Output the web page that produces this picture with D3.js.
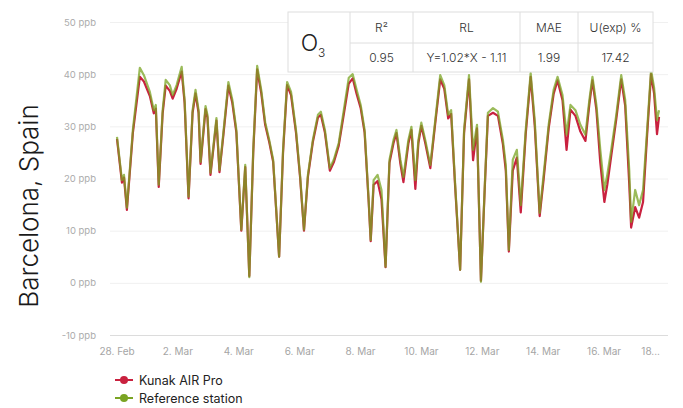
<!DOCTYPE html>
<html>
<head>
<meta charset="utf-8">
<script src="https://cdn.jsdelivr.net/npm/d3@7"></script>
<style>
  body { margin: 0; background: #fff; }
  svg { display: block; font-family: Inter, "Open Sans", sans-serif; }
</style>
</head>
<body>
<div id="chart"></div>
<script>
// hours since 28 Feb 00:00 at the turning points
var hours = [0, 3.9, 5.5, 7.8, 12.5, 18, 21.2, 25.9, 29, 30.6, 32.9, 36, 38.4, 41.6, 43.9, 47, 51, 53.3, 56.4, 59.6,
  61.9, 64.3, 65.9, 69.8, 71.3, 73.7, 78.4, 80.8, 83.9, 87.8, 90.9, 94.1, 98, 101.1, 104.3, 107.4, 110.5, 113.7, 116.8, 120,
  123.1, 127.8, 130.9, 134.1, 137.2, 141.1, 144.3, 147.4, 150.5, 154.4, 158.4, 160.7, 163.9, 167.8, 170.9, 174.8, 178.8, 182.7, 185.8, 188.9,
  192.1, 195.2, 198.4, 200, 202.3, 205.4, 208.5, 211.7, 214.8, 218, 220.3, 223.4, 225.8, 229.7, 232.1, 235.2, 237.6, 239.9, 243, 247,
  250.9, 254.8, 258, 261.1, 263.4, 266.6, 270.5, 273.6, 277.5, 280.7, 283.8, 286.9, 290.1, 292.4, 296.4, 300.3, 304.2, 306.5, 308.9, 312,
  315.2, 318.3, 322.2, 326.1, 329.3, 333.2, 336.3, 340.3, 344.2, 347.3, 351.2, 354.4, 357.5, 361.4, 365.3, 369.3, 372.4, 374.8, 377.9, 381,
  384.2, 386.5, 389.6, 393.6, 397.5, 400.6, 403.8, 405.3, 408.5, 411.6, 414.7, 417.9, 421, 423.4, 425.7, 427.3];

var reference = [28, 19.7, 20.7, 14.4, 29.3, 41.2, 39.8, 36.6, 33.1, 34.1, 18.8, 33.1, 38.9, 37.9, 36, 37.9, 41.4, 35.1, 16.5, 33.1,
  37, 33.1, 23.2, 33.9, 32.2, 21.1, 31.6, 21.6, 28.9, 38.5, 35.1, 29.3, 10.2, 22.6, 1.1, 25.5, 41.6, 37, 30.8, 27.4,
  23.6, 5, 25.5, 38.5, 36.6, 29.3, 20.7, 10.2, 20.7, 27.4, 32.2, 32.8, 29.3, 22, 23.6, 26.8, 33.1, 39.3, 40, 37,
  34.1, 29.3, 15.9, 8.2, 19.7, 20.7, 17.8, 3.1, 23.6, 27.4, 29.3, 23.6, 20.3, 27.4, 29.9, 19.7, 27.4, 30.7, 27.4, 22.6,
  31.2, 39.8, 37.9, 32.2, 33.1, 18.8, 2.5, 29.3, 39.8, 25.5, 30.3, 0.2, 19.7, 32.6, 33.5, 32.8, 27.4, 22.6, 6.3, 23.6,
  25.5, 14.9, 29.3, 40.2, 31.2, 13.4, 20.7, 30.3, 37, 39.5, 36, 28.4, 34.1, 33.1, 30.3, 28.4, 35.1, 39.5, 34.1, 25.5,
  17.8, 20.7, 25.5, 32.2, 39.8, 35.1, 21.6, 11.7, 17.8, 14.9, 17.8, 29.3, 40.8, 37.4, 31.2, 33.1];

var kunak = [27.6, 19.2, 20.2, 14, 28.7, 39.5, 38.6, 35.8, 32.5, 33.4, 18.4, 32.5, 37.8, 36.8, 35.3, 37.2, 40.5, 34.5, 16.2, 32.6,
  36.3, 32.6, 22.8, 33.3, 31.7, 20.7, 31.1, 21.2, 28.4, 37.8, 34.5, 28.8, 10, 22.2, 1.3, 25, 40.9, 36.4, 30.3, 27,
  23.2, 5, 25, 37.9, 36, 28.8, 20.3, 10, 20.3, 27, 31.7, 32.2, 28.8, 21.5, 23.1, 26.3, 32.3, 38.2, 39.2, 36.2,
  33.5, 28.8, 15.5, 8, 18.8, 19.5, 16, 3, 23, 26.8, 28.7, 22.8, 19.3, 26.7, 29.3, 18, 26.8, 30.1, 26.8, 22,
  30.6, 39, 37.2, 31.5, 32.4, 18.3, 2.5, 28.7, 39, 23.5, 29.6, 0.4, 19.2, 32, 32.6, 32, 26.6, 21.5, 6, 21.5,
  24, 13.5, 28.5, 39.5, 30.2, 12.8, 19.8, 29.6, 36.2, 38.8, 35, 25.5, 33.2, 32, 29, 27.2, 34.3, 38.8, 33.2, 23,
  15.5, 18.8, 24.3, 31.4, 39, 34, 19, 10.6, 14.5, 12.5, 15.5, 28.3, 40, 36.3, 28.5, 31.8];

var yTicks = [-10, 0, 10, 20, 30, 40, 50];
var xTickDays = [0, 2, 4, 6, 8, 10, 12, 14, 16, 18];
var xTickLabels = ["28. Feb", "2. Mar", "4. Mar", "6. Mar", "8. Mar", "10. Mar", "12. Mar", "14. Mar", "16. Mar", "18..."];

var tableHead = ["R²", "RL", "MAE", "U(exp) %"];
var tableRow = ["0.95", "Y=1.02*X - 1.11", "1.99", "17.42"];
var seriesNames = ["Kunak AIR Pro", "Reference station"];
var seriesColors = ["#c9213f", "#7aa423"];

var width = 683, height = 408;
var start = new Date(Date.UTC(2023, 1, 28));

var svg = d3.select("#chart").append("svg")
  .attr("width", width)
  .attr("height", height);

var x = d3.scaleTime()
  .domain([start, d3.utcDay.offset(start, 18)])
  .range([117, 665]);

var y = d3.scaleLinear()
  .domain([-10, 50])
  .range([335, 22]);

// grid
svg.append("g").selectAll("line")
  .data(yTicks)
  .enter().append("line")
    .attr("x1", 110)
    .attr("x2", 668)
    .attr("y1", function(d) { return y(d) + 0.5; })
    .attr("y2", function(d) { return y(d) + 0.5; })
    .attr("stroke", function(d) { return d === -10 ? "#dcdcdc" : "#f0f0f0"; })
    .attr("stroke-width", 1);

svg.append("g").selectAll("text")
  .data(yTicks)
  .enter().append("text")
    .attr("x", 96)
    .attr("y", function(d) { return y(d) + 3.5; })
    .attr("text-anchor", "end")
    .attr("fill", "#ababab")
    .style("font-size", "9.5px")
    .text(function(d) { return d + " ppb"; });

svg.append("g").selectAll("text")
  .data(xTickDays)
  .enter().append("text")
    .attr("x", function(d, i) {
      return i === xTickDays.length - 1 ? 660 : x(d3.utcDay.offset(start, d));
    })
    .attr("y", 355)
    .attr("text-anchor", function(d, i) { return i === xTickDays.length - 1 ? "end" : "middle"; })
    .attr("fill", "#a5a5a5")
    .style("font-size", "10px")
    .text(function(d, i) { return xTickLabels[i]; });

// lines
var line = d3.line()
  .x(function(d) { return x(new Date(start.getTime() + d[0] * 3600000)); })
  .y(function(d) { return y(d[1]); });

var kunakData = hours.map(function(h, i) { return [h, kunak[i]]; });
var refData = hours.map(function(h, i) { return [h, reference[i]]; });

svg.append("path")
  .datum(kunakData)
  .attr("d", line)
  .attr("fill", "none")
  .attr("stroke", seriesColors[0])
  .attr("stroke-width", 2.2)
  .attr("stroke-linejoin", "round");

svg.append("path")
  .datum(refData)
  .attr("d", line)
  .attr("fill", "none")
  .attr("stroke", seriesColors[1])
  .attr("stroke-opacity", 0.75)
  .attr("stroke-width", 2.2)
  .attr("stroke-linejoin", "round");

// location title
svg.append("text")
  .attr("transform", "translate(38,206) rotate(-90)")
  .attr("text-anchor", "middle")
  .attr("fill", "#1a1a1a")
  .style("font-size", "26px")
  .style("font-weight", 300)
  .text("Barcelona, Spain");

// stats table
var colEdges = [288, 350, 413, 520, 578, 653];
var rowEdges = [12, 43, 72];
var table = svg.append("g");

table.append("rect")
  .attr("x", colEdges[0]).attr("y", rowEdges[0])
  .attr("width", colEdges[5] - colEdges[0]).attr("height", rowEdges[2] - rowEdges[0])
  .attr("fill", "#fff").attr("stroke", "#dedede");

table.append("line")
  .attr("x1", colEdges[1]).attr("x2", colEdges[5])
  .attr("y1", rowEdges[1]).attr("y2", rowEdges[1])
  .attr("stroke", "#dedede");

table.selectAll(".col")
  .data(colEdges.slice(1, 5))
  .enter().append("line")
    .attr("x1", function(d) { return d; }).attr("x2", function(d) { return d; })
    .attr("y1", rowEdges[0]).attr("y2", rowEdges[2])
    .attr("stroke", "#dedede");

[tableHead, tableRow].forEach(function(row, r) {
  table.selectAll(".r" + r)
    .data(row)
    .enter().append("text")
      .attr("x", function(d, i) { return (colEdges[i + 1] + colEdges[i + 2]) / 2; })
      .attr("y", (rowEdges[r] + rowEdges[r + 1]) / 2 + 4.5)
      .attr("text-anchor", "middle")
      .attr("fill", "#333")
      .style("font-size", "12px")
      .style("font-weight", 300)
      .text(function(d) { return d; });
});

var o3 = table.append("text")
  .attr("x", 313)
  .attr("y", 51)
  .attr("text-anchor", "middle")
  .attr("fill", "#222")
  .style("font-size", "23px")
  .style("font-weight", 300)
  .text("O");
o3.append("tspan")
  .attr("dy", 6)
  .style("font-size", "12px")
  .text("3");

// legend
var legend = svg.append("g").selectAll("g")
  .data(seriesNames)
  .enter().append("g")
    .attr("transform", function(d, i) { return "translate(115," + (380 + i * 18) + ")"; });

legend.append("line")
  .attr("x1", 0).attr("x2", 18)
  .attr("stroke", function(d, i) { return seriesColors[i]; })
  .attr("stroke-width", 2);

legend.append("circle")
  .attr("cx", 9).attr("r", 4)
  .attr("fill", function(d, i) { return seriesColors[i]; });

legend.append("text")
  .attr("x", 24)
  .attr("y", 4.5)
  .attr("fill", "#222")
  .style("font-size", "12.5px")
  .text(function(d) { return d; });
</script>
</body>
</html>
